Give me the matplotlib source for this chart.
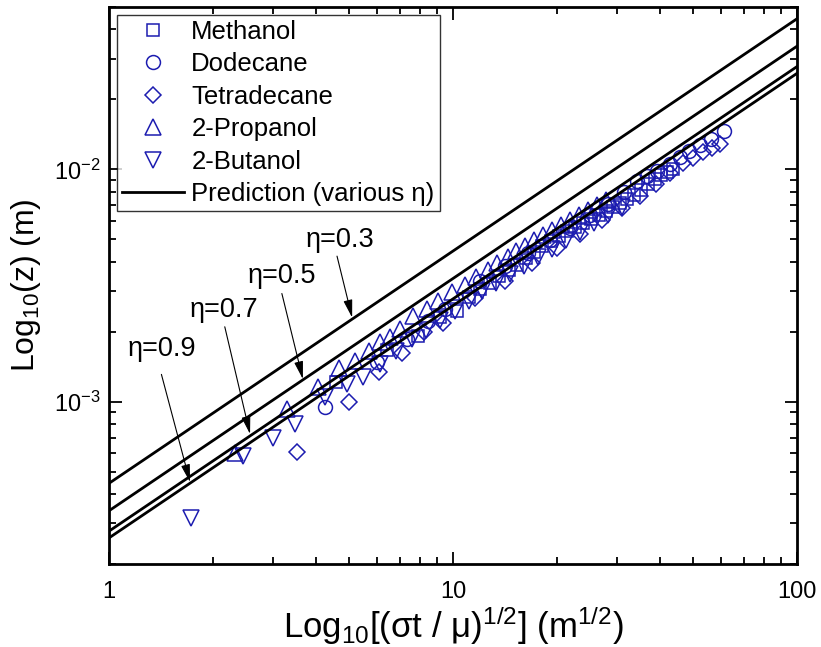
import numpy as np
import matplotlib
matplotlib.use('Agg')
import matplotlib.pyplot as plt
from matplotlib.ticker import FixedLocator, FixedFormatter

plt.rcParams['font.family'] = ['Liberation Sans', 'DejaVu Sans']
plt.rcParams['mathtext.default'] = 'regular'

# --- data ---
methanol_x = [4.57, 6.43, 7.91, 9.17, 10.3, 11.1, 12.0, 12.8, 13.6, 14.5, 15.3, 16.3, 17.2, 18.1,
              19.3, 20.3, 21.4, 22.6, 23.9, 25.2, 26.6, 27.9, 29.2, 30.6, 32.0, 33.6, 35.2, 36.9,
              38.6, 40.2, 41.9, 43.6]
methanol_z = [1.21e-3, 1.67e-3, 1.92e-3, 2.32e-3, 2.46e-3, 2.83e-3, 3.04e-3, 3.23e-3, 3.46e-3,
              3.67e-3, 3.86e-3, 4.14e-3, 4.40e-3, 4.67e-3, 4.91e-3, 5.16e-3, 5.43e-3, 5.65e-3,
              5.89e-3, 6.12e-3, 6.37e-3, 6.64e-3, 6.90e-3, 7.19e-3, 7.48e-3, 7.78e-3, 8.18e-3,
              8.61e-3, 9.05e-3, 9.42e-3, 9.70e-3, 1.00e-2]

dodecane_x = [4.25, 6.01, 7.35, 8.46, 9.48, 12.0, 14.2, 16.5, 19.1, 21.9, 25.0, 28.2, 31.4, 34.3,
              36.6, 39.2, 42.7, 45.7, 48.5, 52.2, 56.2, 61.4]
dodecane_z = [9.51e-4, 1.48e-3, 1.86e-3, 2.23e-3, 2.51e-3, 3.32e-3, 3.83e-3, 4.36e-3, 4.96e-3,
              5.60e-3, 6.37e-3, 7.11e-3, 8.02e-3, 8.87e-3, 9.33e-3, 9.80e-3, 1.05e-2, 1.13e-2,
              1.20e-2, 1.27e-2, 1.35e-2, 1.46e-2]

tetradecane_x = [3.52, 4.99, 6.09, 7.11, 8.24, 9.35, 11.6, 14.2, 17.0, 20.1, 23.4, 27.1, 31.0,
                 35.0, 38.9, 42.7, 46.6, 49.9, 53.3, 56.6, 59.7]
tetradecane_z = [6.06e-4, 1.00e-3, 1.34e-3, 1.62e-3, 2.00e-3, 2.18e-3, 2.78e-3, 3.32e-3, 3.94e-3,
                 4.58e-3, 5.27e-3, 6.06e-3, 6.84e-3, 7.71e-3, 8.61e-3, 9.61e-3, 1.06e-2, 1.12e-2,
                 1.19e-2, 1.23e-2, 1.28e-2]

propanol_x = [2.32, 3.29, 4.05, 4.66, 5.19, 5.70, 6.13, 6.56, 7.01, 7.65, 8.40, 9.04, 9.93, 10.8,
              11.7, 12.6, 13.4, 14.4, 15.2, 16.2, 17.2, 18.3, 19.4, 20.6, 21.9, 23.2, 24.7, 26.2,
              27.9]
propanol_z = [6.00e-4, 9.33e-4, 1.16e-3, 1.39e-3, 1.49e-3, 1.65e-3, 1.81e-3, 1.90e-3, 2.06e-3,
              2.34e-3, 2.51e-3, 2.72e-3, 2.95e-3, 3.19e-3, 3.43e-3, 3.67e-3, 3.94e-3, 4.19e-3,
              4.45e-3, 4.67e-3, 4.96e-3, 5.22e-3, 5.48e-3, 5.77e-3, 6.06e-3, 6.37e-3, 6.70e-3,
              7.05e-3, 7.41e-3]

butanol_x = [1.73, 2.45, 3.00, 3.47, 4.25, 4.92, 5.48, 6.13, 6.83, 7.60, 8.35, 9.17, 10.1, 11.1,
             12.1, 13.3, 14.6, 16.1, 17.7, 19.4, 21.3, 23.4, 25.7, 28.2, 31.0]
butanol_z = [3.16e-4, 5.82e-4, 6.97e-4, 8.02e-4, 1.05e-3, 1.19e-3, 1.28e-3, 1.45e-3, 1.65e-3,
             1.86e-3, 2.04e-3, 2.25e-3, 2.46e-3, 2.72e-3, 2.98e-3, 3.23e-3, 3.53e-3, 3.83e-3,
             4.19e-3, 4.53e-3, 4.96e-3, 5.38e-3, 5.88e-3, 6.37e-3, 6.90e-3]

# prediction z = c * x for each eta
eta = [0.3, 0.5, 0.7, 0.9]
pred_c = [4.45e-4, 3.39e-4, 2.77e-4, 2.59e-4]
pred_x = np.array([1.0, 100.0])

# label position, arrow tail, arrow head
eta_text = [(4.69, 4.96e-3), (3.18, 3.49e-3), (2.16, 2.49e-3), (1.42, 1.68e-3)]
eta_tail = [(4.60, 4.23e-3), (3.18, 2.92e-3), (2.17, 2.10e-3), (1.42, 1.31e-3)]
eta_head = [(5.09, 2.30e-3), (3.66, 1.25e-3), (2.57, 7.25e-4), (1.72, 4.50e-4)]

x_ticks = [1, 10, 100]
x_ticklabels = ['1', '10', '100']

blue = '#1c1cb0'

fig = plt.figure(figsize=(8.21, 6.47), dpi=100)
ax = fig.add_axes([0.1328, 0.1283, 0.838, 0.8609])

mk = dict(linestyle='none', mfc='none', mec=blue, mew=1.1)
ax.plot(methanol_x, methanol_z, marker='s', ms=9, label='Methanol', **mk)
ax.plot(dodecane_x, dodecane_z, marker='o', ms=10, label='Dodecane', **mk)
ax.plot(tetradecane_x, tetradecane_z, marker='D', ms=8, label='Tetradecane', **mk)
ax.plot(propanol_x, propanol_z, marker='^', ms=11, label='2-Propanol', **mk)
ax.plot(butanol_x, butanol_z, marker='v', ms=11, label='2-Butanol', **mk)

for i, c in enumerate(pred_c):
    ax.plot(pred_x, c * pred_x, color='k', lw=2,
            label='Prediction (various η)' if i == 0 else None)

for e, t, a, h in zip(eta, eta_text, eta_tail, eta_head):
    ax.text(t[0], t[1], 'η=%.1f' % e, fontsize=19.5, ha='center', va='center')
    ax.annotate('', xy=h, xytext=a,
                arrowprops=dict(arrowstyle='-|>,head_length=0.6,head_width=0.15',
                                color='k', lw=0.8, mutation_scale=18,
                                shrinkA=0, shrinkB=0))

ax.set_xscale('log')
ax.set_yscale('log')
ax.set_xlim(1, 100)
ax.set_ylim(2e-4, 5e-2)
ax.xaxis.set_major_locator(FixedLocator(x_ticks))
ax.xaxis.set_major_formatter(FixedFormatter(x_ticklabels))

ax.tick_params(which='both', direction='in', top=True, right=True, width=1.3)
ax.tick_params(which='major', length=9, labelsize=17)
ax.tick_params(which='minor', length=5)
ax.tick_params(axis='x', which='major', pad=12)
ax.tick_params(axis='y', which='major', pad=6)
for s in ax.spines.values():
    s.set_linewidth(2)

ax.set_xlabel('Log$_{10}$[(σt / μ)$^{1/2}$] (m$^{1/2}$)', fontsize=25, labelpad=1)
ax.set_ylabel('Log$_{10}$(z) (m)', fontsize=23, labelpad=8)

leg = ax.legend(loc='upper left', fontsize=18.5, frameon=True, fancybox=False,
                edgecolor='k', borderaxespad=0.3, labelspacing=0.33, handlelength=2.4,
                handletextpad=0.3, borderpad=0.2)
leg.get_frame().set_linewidth(1.0)

fig.savefig('out.png', dpi=100)
